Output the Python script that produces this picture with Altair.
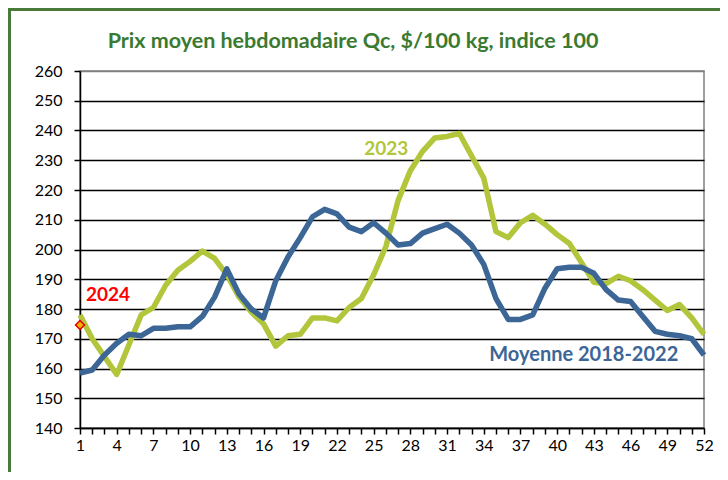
import altair as alt
import pandas as pd

weeks = list(range(1, 53))
y2023 = [178, 170, 164, 158, 168, 178, 180.5, 188, 193, 196, 199.5, 197, 191.5, 184, 179, 175,
         167.5, 171, 171.5, 177, 177, 176, 180.5, 183.5, 191.5, 201, 216.5, 226.5, 233, 237.5,
         238, 239, 231.5, 224, 206, 204, 209, 211.5, 208.5, 205, 202, 195.5, 189, 188.5, 191,
         189.5, 186.5, 183, 179.5, 181.5, 177, 171.5]
ymoy = [158.5, 159.5, 164.5, 168.5, 171.5, 171, 173.5, 173.5, 174, 174, 177.5, 184, 193.5, 185,
        180, 177, 189.5, 197.5, 204, 211, 213.5, 212, 207.5, 206, 209, 205.5, 201.5, 202, 205.5,
        207, 208.5, 205.5, 201.5, 195, 183.5, 176.5, 176.5, 178, 187, 193.5, 194, 194, 192,
        186.5, 183, 182.5, 177.5, 172.5, 171.5, 171, 170, 164.5]
week2024 = [1]
y2024 = [174.6]

series_names = ["2023", "Moyenne 2018-2022"]
series_colors = ["#B3C53B", "#3B6696"]

label_text = ["Moyenne 2018-2022", "2024"]
label_week = [34.45, 1.49]
label_val = [164.4, 184.7]
label_color = ["#3B6696", "#FF0000"]
label_size = [20, 19]
label2023_week = [26.03]
label2023_val = [233.7]

title_text = "Prix moyen hebdomadaire Qc, $/100 kg, indice 100"

df = pd.DataFrame({
    "week": weeks * 2,
    "value": y2023 + ymoy,
    "series": [series_names[0]] * 52 + [series_names[1]] * 52,
    "order": [0] * 52 + [1] * 52,
})
df24 = pd.DataFrame({"week": week2024, "value": y2024})
dfl = pd.DataFrame({"text": label_text, "week": label_week, "value": label_val,
                    "color": label_color, "size": label_size})
dfl23 = pd.DataFrame({"text": ["2023"], "week": label2023_week, "value": label2023_val})

FONT = "Lato"

xscale = alt.Scale(domain=[1, 52], nice=False, zero=False)
yscale = alt.Scale(domain=[140, 260], nice=False, zero=False)

xaxis = alt.Axis(values=weeks, title=None, grid=False, tickSize=6, tickColor="black",
                 tickWidth=1.5, domainColor="black", domainWidth=1.5,
                 labelExpr="(datum.value - 1) % 3 == 0 ? datum.label : ''",
                 labelFont=FONT, labelFontSize=16, labelColor="black", labelPadding=3,
                 labelFlush=False, labelOverlap=False, labelBound=False)
yaxis = alt.Axis(values=list(range(140, 261, 10)), title=None, grid=True,
                 gridColor=alt.condition("datum.value == 260", alt.value("#808080"), alt.value("black")),
                 gridWidth=1.4, tickSize=6, tickColor="black", tickWidth=1.5,
                 domainColor="black", domainWidth=1.5, labelFont=FONT, labelFontSize=16,
                 labelColor="black", labelPadding=12, labelOverlap=False, labelBound=False,
                 labelFlush=False)

X = alt.X("week:Q", scale=xscale, axis=xaxis)
Y = alt.Y("value:Q", scale=yscale, axis=yaxis)

lines = alt.Chart(df).mark_line(strokeWidth=5.5, strokeJoin="round").encode(
    x=X, y=Y,
    color=alt.Color("series:N", scale=alt.Scale(domain=series_names, range=series_colors), legend=None),
    order=alt.Order("order:Q"),
    detail="series:N",
)

pt = alt.Chart(df24).mark_point(shape="diamond", filled=True, fill="#F2B300", stroke="#E00000",
                                strokeWidth=1.5, size=80, opacity=1).encode(x=X, y=Y)

labels = alt.Chart(dfl).mark_text(font=FONT, fontWeight="bold", baseline="middle",
                                  align="left").encode(
    x=X, y=Y,
    text="text:N",
    color=alt.Color("color:N", scale=None),
    size=alt.Size("size:Q", scale=None),
)
label23 = alt.Chart(dfl23).mark_text(font=FONT, fontSize=19, fontWeight="bold", baseline="middle",
                                     align="center", color="#B3C53B").encode(
    x=X, y=Y, text="text:N",
)

title = alt.Chart(alt.Data(values=[{"t": title_text}])).mark_text(
    font=FONT, fontSize=21.5, fontWeight="bold", color="#3A7A31", align="center", baseline="middle"
).encode(x=alt.value(273), y=alt.value(-29), text="t:N")

border_left = alt.Chart(alt.Data(values=[{"a": 1}])).mark_rule(color="#4A7A3A", strokeWidth=3).encode(
    x=alt.value(-70.5), y=alt.value(-62), y2=alt.value(460))
border_top = alt.Chart(alt.Data(values=[{"a": 1}])).mark_rule(color="#4A7A3A", strokeWidth=3).encode(
    x=alt.value(-72), x2=alt.value(700), y=alt.value(-61.5))

chart = alt.layer(lines, pt, labels, label23, title, border_left, border_top).properties(
    width=624, height=357,
    autosize=alt.AutoSizeParams(type="none"),
    padding={"left": 72, "top": 63, "right": 16, "bottom": 44},
    background="white",
).configure_view(stroke="#808080", strokeWidth=1.5)

chart.save("out.html", embed_options={"renderer": "svg", "actions": False})
